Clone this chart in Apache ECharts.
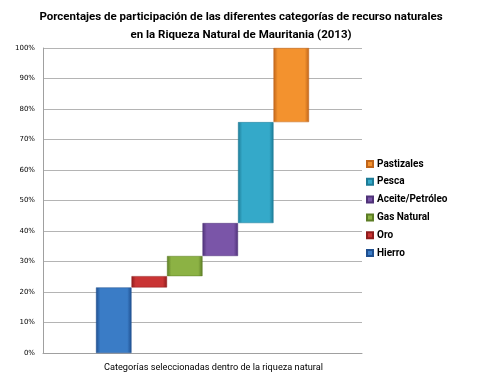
<!DOCTYPE html>
<html><head><meta charset="utf-8">
<script src="https://cdn.jsdelivr.net/npm/echarts@6/dist/echarts.min.js"></script>
<style>html,body{margin:0;padding:0;background:#fff}#c{width:500px;height:386px}</style>
</head><body><div id="c"></div>
<script>
var categories = ['Hierro', 'Oro', 'Gas Natural', 'Aceite/Petróleo', 'Pesca', 'Pastizales'];
var values = [21.5, 3.7, 6.6, 10.8, 33.1, 24.3];
var colors = [
  ['#1f4f8f', '#3a7cc6', '#1f4f8f'],
  ['#8e1c1c', '#c93434', '#8e1c1c'],
  ['#5c7d25', '#8cb244', '#5c7d25'],
  ['#4f3278', '#7a55a8', '#4f3278'],
  ['#1d7b96', '#34a9c9', '#1d7b96'],
  ['#c0651a', '#f3922e', '#c0651a']
];
var yTicks = [0, 10, 20, 30, 40, 50, 60, 70, 80, 90, 100];

var font = 'Roboto, sans-serif';
var series = [];
var cum = 0;
for (var i = 0; i < categories.length; i++) {
  series.push({
    name: 'base' + i, type: 'bar', stack: 's' + i, data: [cum],
    itemStyle: { color: 'transparent' }, barWidth: 35.5, barGap: '0%',
    silent: true, emphasis: { disabled: true }
  });
  series.push({
    name: categories[i], type: 'bar', stack: 's' + i, data: [values[i]],
    barWidth: 35.5, barGap: '0%',
    itemStyle: {
      color: { type: 'linear', x: 0, y: 0, x2: 1, y2: 0, colorStops: [
        { offset: 0, color: colors[i][0] }, { offset: 0.12, color: colors[i][1] },
        { offset: 0.88, color: colors[i][1] }, { offset: 1, color: colors[i][2] }] },
      borderColor: colors[i][0], borderWidth: 0.5
    }
  });
  cum += values[i];
}
var chart = echarts.init(document.getElementById('c'));
chart.setOption({
  animation: false,
  title: {
    text: 'Porcentajes de participación de las diferentes categorías de recurso naturales\nen la Riqueza Natural de Mauritania (2013)',
    left: 236, top: 3, textAlign: 'center',
    textStyle: { fontFamily: font, fontWeight: 'bold', fontSize: 11.5, lineHeight: 18, color: '#000' }
  },
  legend: {
    data: categories.slice().reverse(), orient: 'vertical', left: 361, top: 154,
    itemWidth: 6, itemHeight: 6, itemGap: 7.8, icon: 'rect',
    textStyle: { fontFamily: font, fontWeight: 'bold', fontSize: 10, color: '#000', padding: [0, 0, 0, -1] }
  },
  grid: { left: 43, right: 138, top: 48, bottom: 33 },
  graphic: [{
    type: 'text', left: 104, top: 363,
    style: { text: 'Categorías seleccionadas dentro de la riqueza natural',
      font: '9.2px Roboto, sans-serif', fill: '#000' }
  }],
  xAxis: {
    type: 'category', data: [''],
    axisLine: { lineStyle: { color: '#a0a0a0' } }, axisTick: { show: false }, axisLabel: { show: false }
  },
  yAxis: {
    type: 'value', min: 0, max: 100, interval: 10,
    axisLine: { show: true, lineStyle: { color: '#a0a0a0' } }, axisTick: { show: false },
    splitLine: { lineStyle: { color: '#b4b4b4' } },
    axisLabel: { formatter: function (v) { return yTicks.indexOf(v) >= 0 ? v + '%' : ''; },
      fontFamily: 'Verdana, "DejaVu Sans", sans-serif', fontSize: 7, color: '#000', margin: 8 }
  },
  series: series
});
</script></body></html>
